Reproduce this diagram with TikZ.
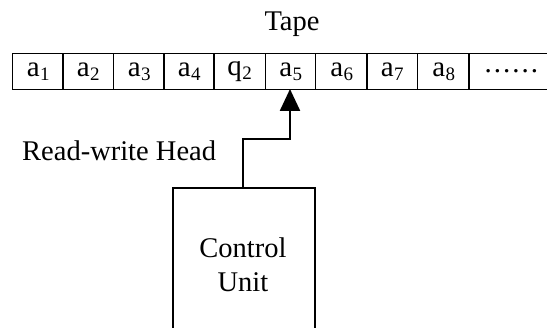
\documentclass[tikz,border=0pt]{standalone}
\usepackage{fontspec}
\setmainfont{Liberation Serif}
\usetikzlibrary{arrows.meta}
\newcommand{\sym}[2]{#1\kern0.5pt\raisebox{-0.3ex}{\fontsize{19}{19}\selectfont #2}}
\tikzset{
  cell/.style={draw, line width=1.4pt, minimum height=36pt, inner sep=0pt, anchor=north west, font=\fontsize{29}{29}\selectfont},
  lbl/.style={inner sep=0pt, font=\fontsize{28.5}{34}\selectfont},
  unitbox/.style={draw, line width=2pt, inner sep=0pt, anchor=north west, minimum width=142pt, minimum height=160pt},
  headarrow/.style={line width=2.4pt, -{Triangle[width=20pt,length=22pt]}}
}
\begin{document}
\begin{tikzpicture}[x=1pt,y=-1pt]
\useasboundingbox (0,0) rectangle (547,328);
\clip (0,0) rectangle (547,328);
\node[lbl] (tape) at (292,24) {Tape};
\node[cell, minimum width=51pt] (c1) at (12,53) {\sym{a}{1}};
\node[cell, minimum width=51pt] (c2) at (62,53) {\sym{a}{2}};
\node[cell, minimum width=51pt] (c3) at (113,53) {\sym{a}{3}};
\node[cell, minimum width=51pt] (c4) at (163,53) {\sym{a}{4}};
\node[cell, minimum width=52pt] (c5) at (213,53) {\sym{q}{2}};
\node[cell, minimum width=50pt] (c6) at (265,53) {\sym{a}{5}};
\node[cell, minimum width=52pt] (c7) at (315,53) {\sym{a}{6}};
\node[cell, minimum width=51pt] (c8) at (366,53) {\sym{a}{7}};
\node[cell, minimum width=52pt] (c9) at (417,53) {\sym{a}{8}};
\node[cell, minimum width=90pt, text width=80pt, align=left] (c10) at (468,53) {\hspace{11pt}.\kern2pt.\kern2pt.\kern2pt.\kern2pt.\kern2pt.};
\node[lbl, anchor=west] (rw) at (22,151) {Read-write Head};
\node[unitbox] (cu) at (172,187) {};
\node[lbl, align=center] (cut) at (243,265) {Control\\Unit};
\coordinate (bend1) at (243,139);
\coordinate (bend2) at (290,139);
\draw[headarrow] (243,187) -- (bend1) -- (bend2) -- (290,89);
\end{tikzpicture}
\end{document}
